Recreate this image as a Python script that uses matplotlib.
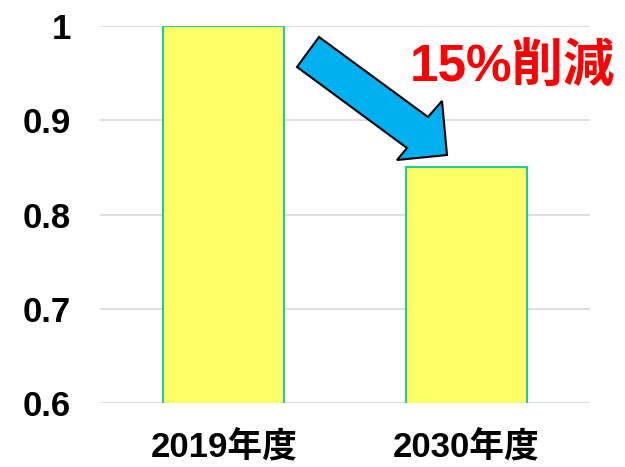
import matplotlib.pyplot as plt
from matplotlib.patches import Polygon

plt.rcParams['font.family'] = ['Liberation Sans', 'Noto Sans CJK JP', 'DejaVu Sans']

# data
categories = ['2019年度', '2030年度']
values = [1.0, 0.85]
yticks = [0.6, 0.7, 0.8, 0.9, 1.0]
ytick_labels = ['0.6', '0.7', '0.8', '0.9', '1']

W, H = 625, 467
fig = plt.figure(figsize=(W / 100, H / 100), dpi=100)
ax = fig.add_axes([100 / W, 1 - 403 / H, 490 / W, 377 / H])

ax.bar(range(len(categories)), values, width=0.5, bottom=0,
       color='#FFFF66', edgecolor='#22CC99', linewidth=1.5, zorder=3)

ax.set_ylim(0.6, 1.0)
ax.set_xlim(-0.51, 1.51)
ax.set_yticks(yticks)
ax.set_yticklabels(ytick_labels)
ax.set_xticks(range(len(categories)))
ax.set_xticklabels(categories)
ax.yaxis.grid(True, color='#D9D9D9', linewidth=1.2, zorder=0)
ax.set_axisbelow(True)
for s in ax.spines.values():
    s.set_visible(False)
ax.tick_params(axis='both', length=0, labelsize=25)
ax.tick_params(axis='y', pad=21)
ax.tick_params(axis='x', pad=20)
for lbl in ax.get_xticklabels() + ax.get_yticklabels():
    lbl.set_fontweight('bold')

# arrow (pixel coords, y from top)
pts = [(319, 37), (428, 117), (442, 101), (447, 155), (397, 160), (407, 148), (297, 67)]
pts = [(x / W, 1 - y / H) for x, y in pts]
fig.patches.append(Polygon(pts, closed=True, facecolor='#00B0F0', edgecolor='black',
                           linewidth=1.5, transform=fig.transFigure, zorder=5))

fig.text(512 / W, 1 - 67 / H, '15%削減', color='#FF0000', fontsize=37,
         fontweight='bold', ha='center', va='center')

fig.savefig('out.png', dpi=100)
